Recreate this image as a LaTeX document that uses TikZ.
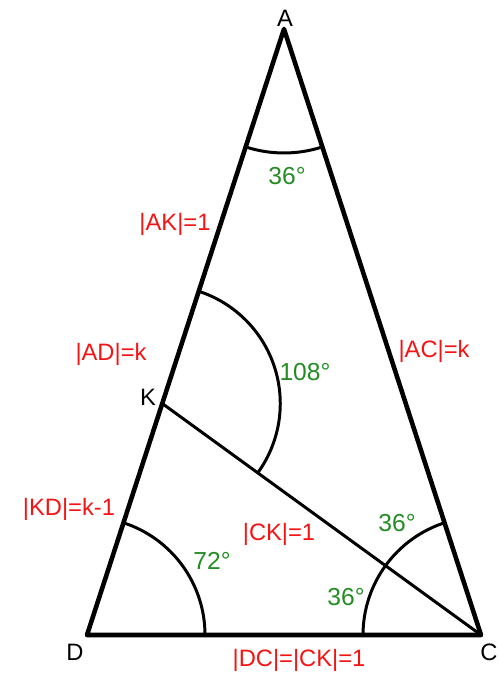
\documentclass[tikz,border=0pt]{standalone}
\usepackage{fontspec}
\setmainfont{Liberation Sans}
\usetikzlibrary{calc,positioning}
\definecolor{lenred}{RGB}{245,20,20}
\definecolor{anggreen}{RGB}{35,140,35}

\begin{document}
\begin{tikzpicture}[
    x=0.2mm, y=0.2mm,
    side/.style={line width=2.6pt, line join=round, line cap=round},
    cut/.style={line width=1.7pt},
    ang/.style={line width=1.7pt},
    vtx/.style={font=\fontsize{13.5}{15}\selectfont, text=black, inner sep=0pt},
    len/.style={font=\fontsize{13.5}{15}\selectfont, text=lenred, inner sep=0pt},
    deg/.style={font=\fontsize{14}{15}\selectfont, text=anggreen, inner sep=0pt}
  ]
    \useasboundingbox (0,0) rectangle (498,677);
    % golden triangle
    \coordinate (D) at (87,42);
    \coordinate (C) at (481,42);
    \coordinate (A) at ($(D)!0.5!(C)+(0,606)$);
    \coordinate (K) at ($(A)!0.618!(D)$);

    \draw[side] (A) -- (D) -- (C) -- cycle;
    \draw[cut] (K) -- (C);

    % angle arcs
    \draw[ang] (A) ++(252:24.8mm) arc[start angle=252, end angle=288, radius=24.8mm];
    \draw[ang] (K) ++(72:23.6mm) arc[start angle=72, end angle=-36, radius=23.6mm];
    \draw[ang] (D) ++(0:23.6mm) arc[start angle=0, end angle=72, radius=23.6mm];
    \draw[ang] (C) ++(108:23.6mm) arc[start angle=108, end angle=180, radius=23.6mm];

    % vertices
    \node[vtx] (lA) at (285,659) {A};
    \node[vtx] (lK) at (148,280) {K};
    \node[vtx] (lD) at (75,25) {D};
    \node[vtx] (lC) at (489,25) {C};

    % lengths
    \node[len] (ak) at (175,453) {|AK|=1};
    \node[len] (ad) at (111,323) {|AD|=k};
    \node[len] (ac) at (434,326) {|AC|=k};
    \node[len] (kd) at (69,168) {|KD|=k-1};
    \node[len] (ck) at (279,143) {|CK|=1};
    \node[len] (dc) at (299,17) {|DC|=|CK|=1};

    % angles
    \node[deg] (gA) at (287,501) {36°};
    \node[deg] (gK) at (305,305) {108°};
    \node[deg] (gD) at (212,116) {72°};
    \node[deg] (gC1) at (397,154) {36°};
    \node[deg] (gC2) at (346,80) {36°};
\end{tikzpicture}
\end{document}
